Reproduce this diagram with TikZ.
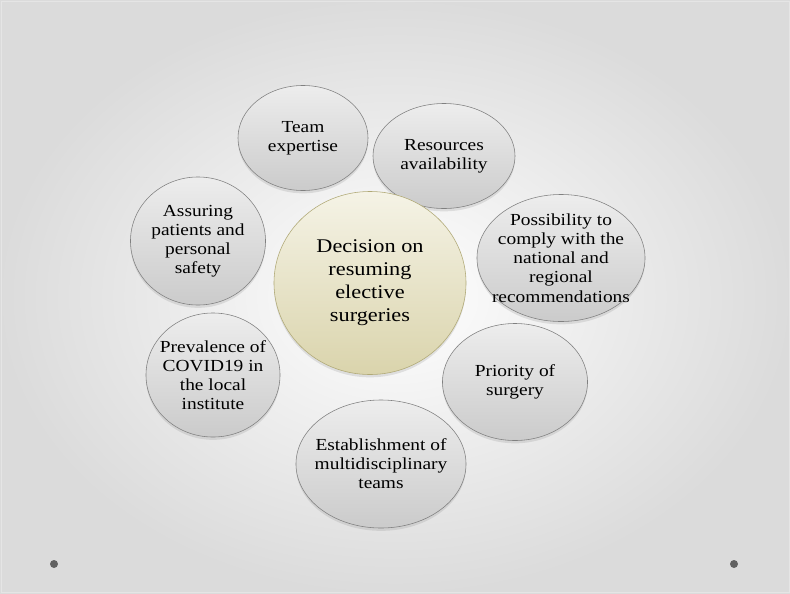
\documentclass[tikz,border=0pt]{standalone}
\usepackage{fontspec}
\setmainfont[FakeStretch=1.15]{Liberation Serif}
\usetikzlibrary{shapes.geometric, shadows}
\definecolor{bubblerim}{HTML}{808080}
\definecolor{bubbletop}{HTML}{EDEDED}
\definecolor{bubblebot}{HTML}{CBCBCB}
\definecolor{hubtop}{HTML}{F5F3E6}
\definecolor{hubbot}{HTML}{DAD4AC}
\definecolor{hubrim}{HTML}{B0A976}
\tikzstyle{bubble} = [
    ellipse,
    draw=bubblerim,
    top color=bubbletop,
    bottom color=bubblebot,
    drop shadow={opacity=0.2, shadow xshift=0pt, shadow yshift=-2pt},
    inner sep=0pt
]
\tikzstyle{hub} = [
    ellipse,
    draw=hubrim,
    top color=hubtop,
    bottom color=hubbot,
    drop shadow={opacity=0.2, shadow xshift=0pt, shadow yshift=-2pt},
    inner sep=0pt
]
\tikzstyle{say} = [
    align=center,
    font=\fontsize{12}{13.6}\selectfont
]
\tikzstyle{bigsay} = [
    align=center,
    font=\fontsize{13.8}{16.3}\selectfont
]

\begin{document}
\begin{tikzpicture}[x=0.025cm, y=-0.025cm]

% backdrop
\useasboundingbox (0,0) rectangle (790,593);
\shade [inner color=white, outer color=black!14] (0,0) rectangle (790,593);
\draw [black!10] (1,1) rectangle (789,592);

\node (team) [bubble, minimum width=3.25cm, minimum height=2.625cm,
    label={[say]center:Team\\expertise}] at (303,138) {};

\node (resources) [bubble, minimum width=3.55cm, minimum height=2.625cm,
    label={[say]center:Resources\\availability}] at (444,156) {};

\node (safety) [bubble, minimum width=3.375cm, minimum height=3.2cm,
    label={[say]center:Assuring\\patients and\\personal\\safety}] at (198,241) {};

\node (comply) [bubble, minimum width=4.2cm, minimum height=3.175cm,
    label={[say]center:Possibility to\\comply with the\\national and\\regional\\recommendations}] at (561,258) {};

\node (prevalence) [bubble, minimum width=3.35cm, minimum height=3.1cm,
    label={[say]center:Prevalence of\\COVID19 in\\the local\\institute}] at (213,375) {};

\node (priority) [bubble, minimum width=3.625cm, minimum height=2.925cm,
    label={[say]center:Priority of\\surgery}] at (515,382) {};

\node (teams) [bubble, minimum width=4.25cm, minimum height=3.2cm,
    label={[say]center:Establishment of\\multidisciplinary\\teams}] at (381,464) {};

\node (decision) [hub, minimum width=4.8cm, minimum height=4.575cm,
    label={[bigsay]center:Decision on\\resuming\\elective\\surgeries}] at (370,283) {};

% corner dots
\fill [black!62] (54,564) circle (4);
\fill [black!62] (734,564) circle (4);

\end{tikzpicture}
\end{document}
